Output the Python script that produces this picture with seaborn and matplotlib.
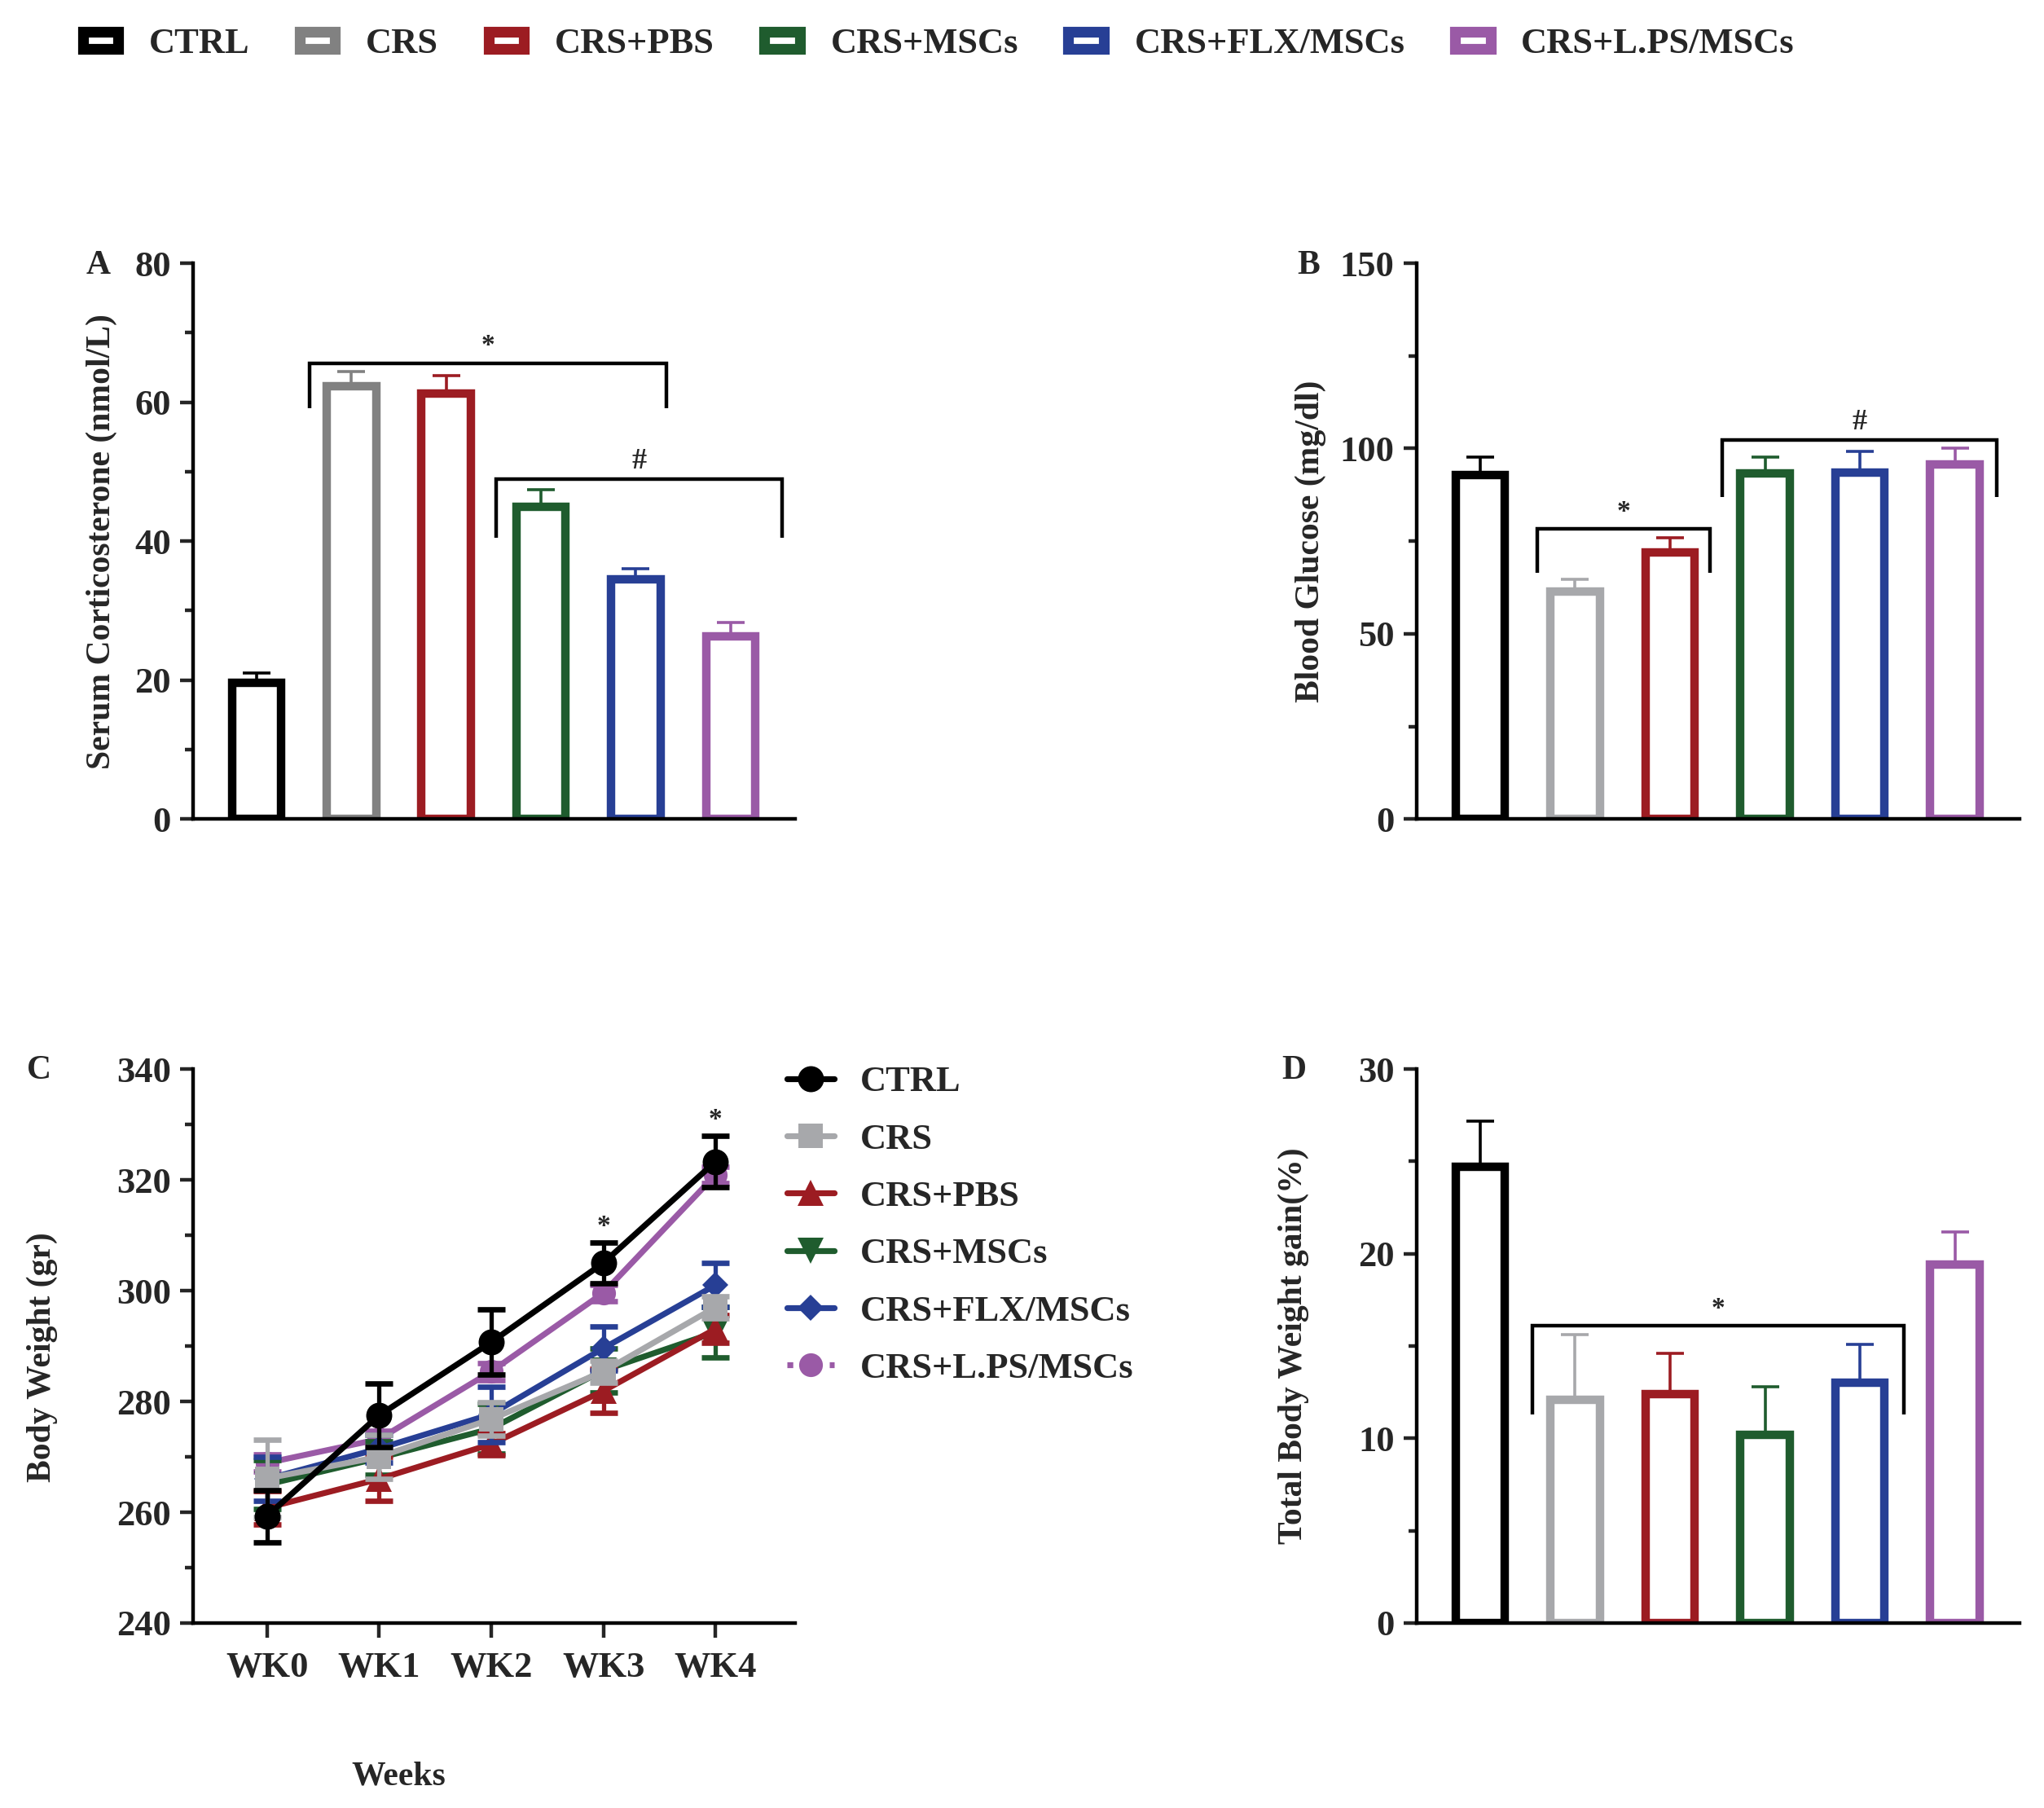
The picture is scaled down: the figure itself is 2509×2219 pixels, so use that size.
import numpy as np
import pandas as pd
import matplotlib
matplotlib.use("Agg")
import matplotlib.pyplot as plt
import seaborn as sns
from matplotlib.lines import Line2D
from matplotlib.patches import Rectangle

# ---------------- data ----------------
groups = ["CTRL", "CRS", "CRS+PBS", "CRS+MSCs", "CRS+FLX/MSCs", "CRS+L.PS/MSCs"]
colors = ["#000000", "#a7a8ab", "#9c1c22", "#1f5c2e", "#273f95", "#9a5aa6"]
colors_A = ["#000000", "#818181", "#9c1c22", "#1f5c2e", "#273f95", "#9a5aa6"]

cort_mean = [19.6, 62.3, 61.3, 45.0, 34.5, 26.3]
cort_err = [1.4, 2.1, 2.5, 2.4, 1.5, 2.0]

glucose_mean = [92.9, 61.3, 72.0, 93.2, 93.6, 95.7]
glucose_err = [4.8, 3.4, 4.0, 4.5, 5.6, 4.3]

gain_mean = [24.7, 12.1, 12.4, 10.2, 13.0, 19.4]
gain_err = [2.5, 3.5, 2.2, 2.6, 2.1, 1.8]

weeks = ["WK0", "WK1", "WK2", "WK3", "WK4"]
w_ctrl = [259.3, 277.5, 290.7, 305.0, 323.3]
w_crs = [266.1, 270.0, 276.8, 285.4, 297.0]
w_pbs = [260.8, 266.0, 272.3, 281.9, 293.1]
w_msc = [265.0, 269.8, 275.1, 285.6, 292.5]
w_flx = [266.0, 271.5, 277.7, 289.6, 301.0]
w_lps = [268.9, 273.2, 285.4, 299.6, 320.9]
e_ctrl = [4.7, 5.8, 5.9, 3.7, 4.6]
e_crs = [7.0, 4.0, 3.0, 2.0, 2.0]
e_pbs = [3.0, 4.0, 2.0, 4.0, 2.5]
e_msc = [4.4, 3.0, 4.5, 4.0, 4.5]
e_flx = [4.0, 2.5, 5.0, 4.0, 4.0]
e_lps = [1.5, 1.5, 1.5, 1.5, 1.5]
star_weeks = [3, 4]

# significance brackets: (x_left, x_right, y_top, y_leg_bottom, label)
brackets_A = [(0.56, 4.32, 65.6, 59.1, "*"), (2.53, 5.54, 48.9, 40.5, "#")]
brackets_B = [(0.60, 2.42, 78.3, 66.5, "*"), (2.55, 5.44, 102.3, 87.0, "#")]
brackets_D = [(0.55, 4.46, 16.1, 11.3, "*")]

# ---------------- style ----------------
sns.set_style("ticks")
plt.rcParams["font.family"] = ["Liberation Serif", "DejaVu Serif"]
plt.rcParams["font.weight"] = "bold"
plt.rcParams["axes.labelweight"] = "bold"

FS = 32
LAB = 30
SPINE = 3.2
BAR_LW = 7.5

fig = plt.figure(figsize=(25.09, 22.19), dpi=100)

def style_axis(ax, major, minor, ylim):
    ax.set_ylim(*ylim)
    ax.set_yticks(major)
    ax.set_yticks(minor, minor=True)
    ax.tick_params(axis="y", which="major", length=11.5, width=SPINE, labelsize=FS, pad=8)
    ax.tick_params(axis="y", which="minor", length=7, width=SPINE)
    for lab in ax.get_yticklabels():
        lab.set_fontweight("bold")
    for s in ["left", "bottom"]:
        ax.spines[s].set_linewidth(SPINE)
        ax.spines[s].set_color("black")
    sns.despine(ax=ax)

def bar_panel(rect, means, errs, cols, major, minor, ylim, ylabel, label_x, brackets, letter, letter_pos):
    ax = fig.add_axes(rect)
    df = pd.DataFrame({"group": groups, "value": means})
    sns.barplot(data=df, x="group", y="value", hue="group", palette=cols, fill=False,
                linewidth=BAR_LW, width=0.52, legend=False, errorbar=None, ax=ax)
    for p in ax.patches:
        p.set_facecolor("white")
        p.set_zorder(2)
    pos = np.arange(len(groups))
    for i in range(len(groups)):
        ax.errorbar(pos[i], means[i], yerr=[[0], [errs[i]]], fmt="none", ecolor=cols[i],
                    elinewidth=2.6, capsize=12, capthick=2.6, zorder=1)
    ax.set_xlim(-0.67, 5.68)
    ax.set_xticks([])
    ax.set_xlabel("")
    style_axis(ax, major, minor, ylim)
    ax.set_ylabel(ylabel, fontsize=LAB, fontweight="bold")
    ax.yaxis.set_label_coords(label_x, 0.5)
    for (x0, x1, yt, yb, lab) in brackets:
        ax.plot([x0, x0, x1, x1], [yb, yt, yt, yb], color="black", lw=3.2, solid_capstyle="butt",
                solid_joinstyle="miter", zorder=3, clip_on=False)
        ax.text((x0 + x1) / 2, yt + (ylim[1] - ylim[0]) * 0.008, lab, ha="center", va="bottom",
                fontsize=26 if lab == "#" else 24, fontweight="bold")
    fig.text(letter_pos[0], letter_pos[1], letter, fontsize=LAB, fontweight="bold", ha="center", va="center")
    return ax

bar_panel([0.0944, 0.547, 0.2946, 0.3074], cort_mean, cort_err, colors_A,
          [0, 20, 40, 60, 80], [10, 30, 50, 70], (0, 80),
          "Serum Corticosterone (nmol/L)", -0.125, brackets_A, "A", (0.048, 0.853))

bar_panel([0.693, 0.547, 0.295, 0.3074], glucose_mean, glucose_err, colors,
          [0, 50, 100, 150], [25, 75, 125], (0, 150),
          "Blood Glucose (mg/dl)", -0.150, brackets_B, "B", (0.640, 0.853))

bar_panel([0.693, 0.1023, 0.295, 0.3064], gain_mean, gain_err, colors,
          [0, 10, 20, 30], [5, 15, 25], (0, 30),
          "Total Body Weight gain(%)", -0.178, brackets_D, "D", (0.633, 0.408))

# ---------------- panel C ----------------
axc = fig.add_axes([0.0944, 0.1023, 0.2946, 0.3064])
series = {
    "CTRL": (w_ctrl, e_ctrl), "CRS": (w_crs, e_crs), "CRS+PBS": (w_pbs, e_pbs),
    "CRS+MSCs": (w_msc, e_msc), "CRS+FLX/MSCs": (w_flx, e_flx), "CRS+L.PS/MSCs": (w_lps, e_lps),
}
markers = {"CTRL": "o", "CRS": "s", "CRS+PBS": "^", "CRS+MSCs": "v", "CRS+FLX/MSCs": "D", "CRS+L.PS/MSCs": "o"}
msizes = {"CTRL": 23, "CRS": 22, "CRS+PBS": 23, "CRS+MSCs": 23, "CRS+FLX/MSCs": 16, "CRS+L.PS/MSCs": 21}
cmap = dict(zip(groups, colors))
draw_order = ["CRS+L.PS/MSCs", "CRS+MSCs", "CRS+PBS", "CRS+FLX/MSCs", "CRS", "CTRL"]
xpos = np.arange(len(weeks))
LINE_W = 5.2
for z, g in enumerate(draw_order):
    vals, errs = series[g]
    df = pd.DataFrame({"week": xpos, "weight": vals})
    sns.lineplot(data=df, x="week", y="weight", color=cmap[g], marker=markers[g],
                 markersize=msizes[g], markeredgewidth=0, linewidth=LINE_W, ax=axc, zorder=3 + z)
    axc.errorbar(xpos, vals, yerr=errs, fmt="none", ecolor=cmap[g], elinewidth=3.8,
                 capsize=12, capthick=4.8, zorder=3 + z)
for wi in star_weeks:
    axc.text(xpos[wi], w_ctrl[wi] + e_ctrl[wi] + 0.6, "*", ha="center", va="bottom", fontsize=24, fontweight="bold")
axc.set_xlim(-0.66, 4.71)
axc.set_xticks(xpos)
axc.set_xticklabels(weeks, fontsize=FS, fontweight="bold")
axc.tick_params(axis="x", which="major", length=13, width=SPINE, pad=12)
style_axis(axc, [240, 260, 280, 300, 320, 340], [250, 270, 290, 310, 330], (240, 340))
axc.set_ylabel("Body Weight (gr)", fontsize=LAB, fontweight="bold")
axc.yaxis.set_label_coords(-0.225, 0.48)
axc.set_xlabel("Weeks", fontsize=LAB, fontweight="bold")
axc.xaxis.set_label_coords(0.342, -0.25)
fig.text(0.019, 0.408, "C", fontsize=LAB, fontweight="bold", ha="center", va="center")

handles_c = []
for g in groups:
    ls = (0, (1.0, 1.4)) if g == "CRS+L.PS/MSCs" else "-"
    handles_c.append(Line2D([], [], color=cmap[g], marker=markers[g], markersize=msizes[g],
                            markeredgewidth=0, linewidth=LINE_W, linestyle=ls))
fig.legend(handles_c, groups, loc="upper left", bbox_to_anchor=(0.385, 0.4105), frameon=False,
           prop={"size": FS, "weight": "bold"}, handlelength=1.3, handletextpad=0.72,
           labelspacing=0.68, borderpad=0, borderaxespad=0)

# ---------------- top legend ----------------
handles_top = [Rectangle((0, 0), 1, 1, facecolor="white", edgecolor=c, linewidth=9.5) for c in colors_A]
fig.legend(handles_top, groups, loc="center left", bbox_to_anchor=(0.0405, 0.9756), ncol=6, frameon=False,
           prop={"size": FS, "weight": "bold"}, handlelength=0.98, handleheight=0.36,
           handletextpad=0.85, columnspacing=1.38, borderpad=0, borderaxespad=0)

fig.savefig("out.png", dpi=100, facecolor="white")
